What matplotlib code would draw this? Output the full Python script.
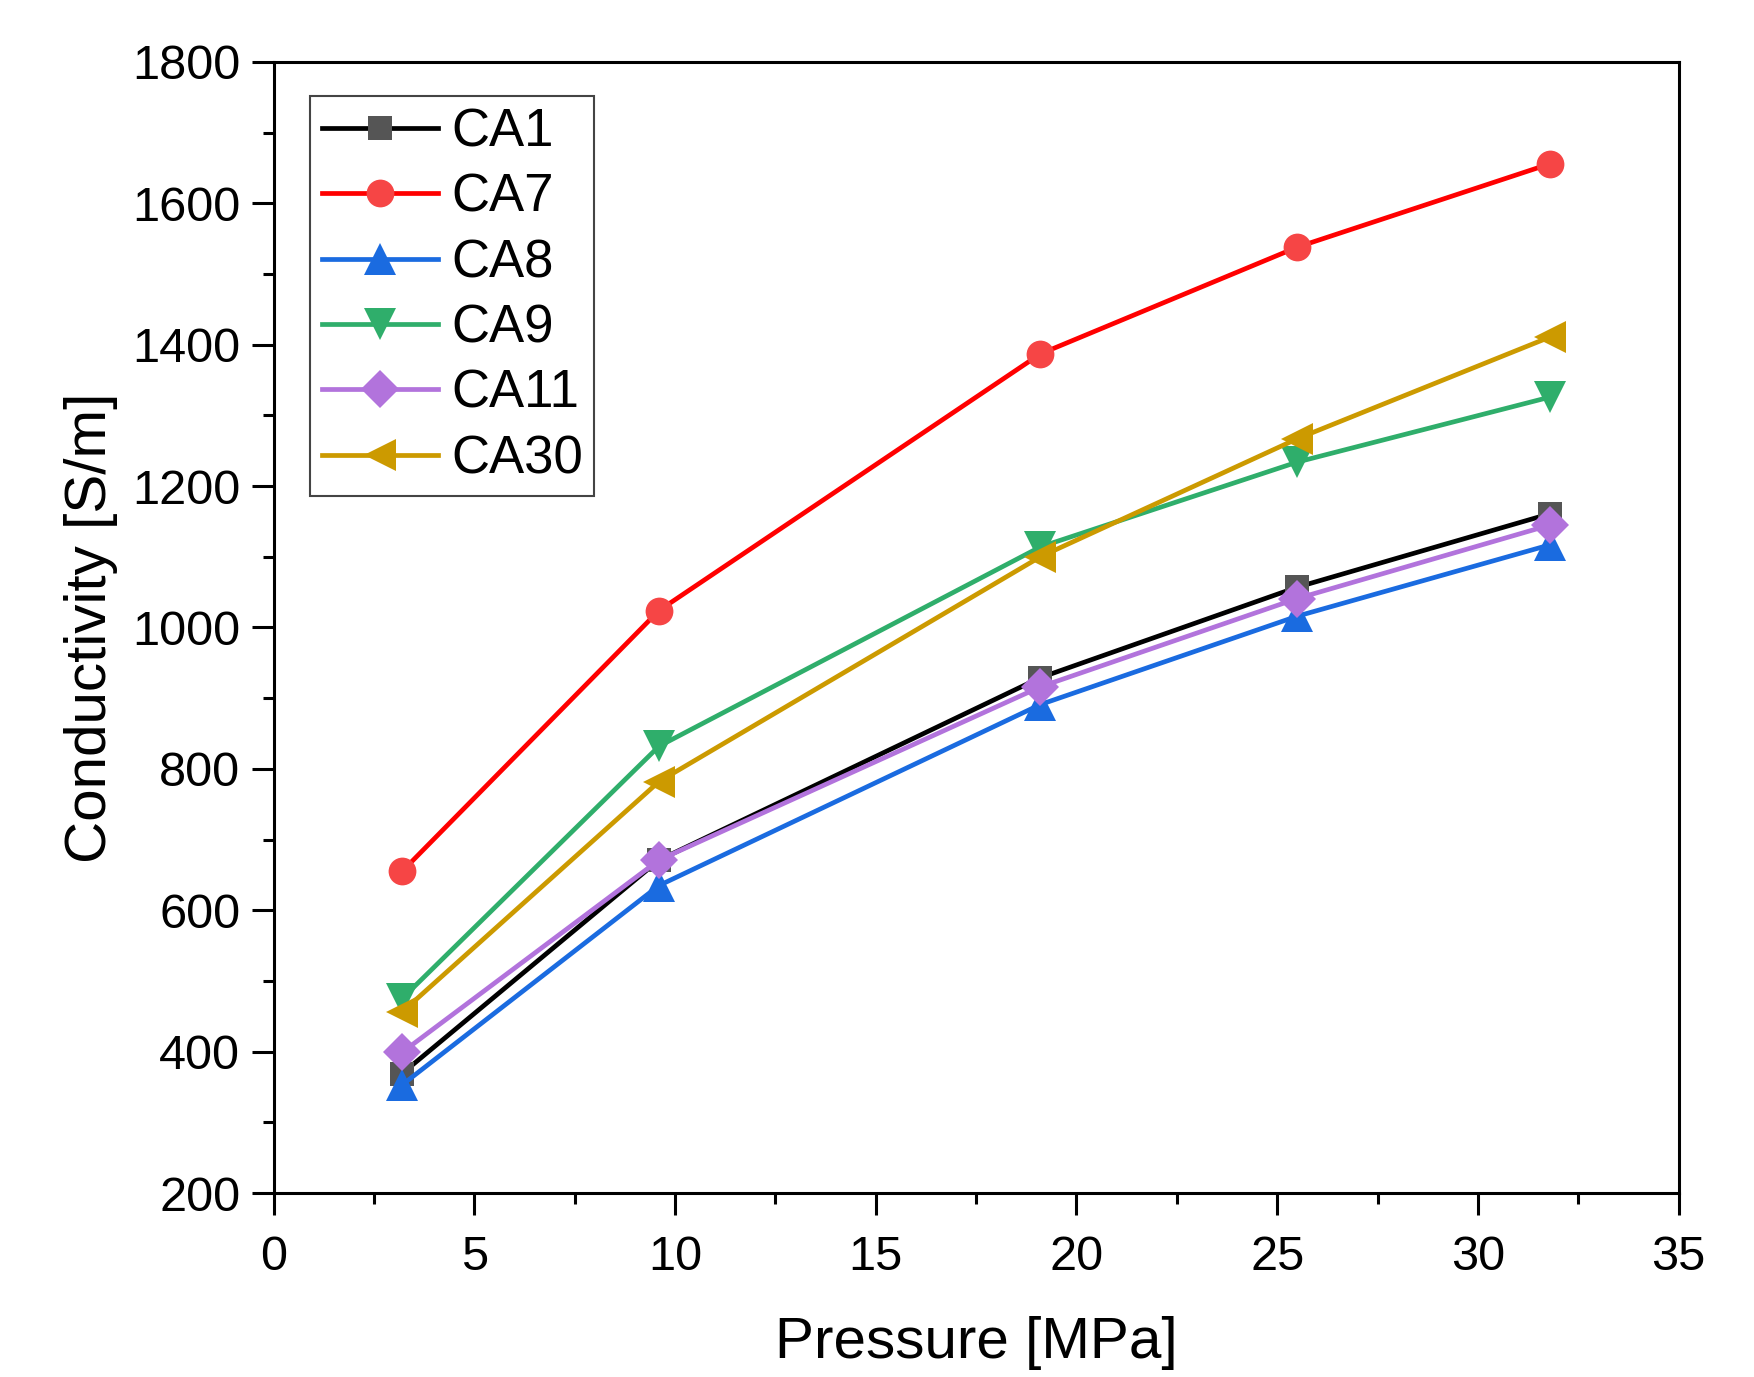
import matplotlib
matplotlib.use('Agg')
import matplotlib.pyplot as plt
from matplotlib.ticker import MultipleLocator

plt.rcParams['font.family'] = ['Liberation Sans', 'DejaVu Sans']

pressure = [3.2, 9.6, 19.1, 25.5, 31.8]

ca1 = [369, 671, 929, 1057, 1161]
ca7 = [655, 1024, 1387, 1538, 1656]
ca8 = [353, 635, 891, 1016, 1117]
ca9 = [475, 832, 1114, 1234, 1326]
ca11 = [399, 671, 916, 1041, 1145]
ca30 = [456, 782, 1100, 1267, 1411]

labels = ['CA1', 'CA7', 'CA8', 'CA9', 'CA11', 'CA30']
series = [ca1, ca7, ca8, ca9, ca11, ca30]
line_colors = ['#000000', '#ff0000', '#1a6be0', '#2fae6b', '#b273dc', '#cc9a00']
marker_colors = ['#555555', '#f64545', '#1a6be0', '#2fae6b', '#b273dc', '#cc9a00']
markers = ['s', 'o', '^', 'v', 'D', '<']
msizes = [17, 20, 23, 23, 19, 23]

fig = plt.figure(figsize=(17.54, 13.77), dpi=100)
ax = fig.add_axes([0.156, 0.1336, 0.801, 0.8214])

for y, lab, lc, mc, m, ms in zip(series, labels, line_colors, marker_colors, markers, msizes):
    ax.plot(pressure, y, color=lc, lw=3.4, marker=m, markersize=ms,
            markerfacecolor=mc, markeredgecolor=mc, markeredgewidth=0, label=lab)

ax.set_xlim(0, 35)
ax.set_ylim(200, 1800)
ax.xaxis.set_major_locator(MultipleLocator(5))
ax.xaxis.set_minor_locator(MultipleLocator(2.5))
ax.yaxis.set_major_locator(MultipleLocator(200))
ax.yaxis.set_minor_locator(MultipleLocator(100))

for s in ax.spines.values():
    s.set_linewidth(2.2)
ax.tick_params(which='major', direction='out', length=16, width=2.2, labelsize=35, pad=8,
               top=False, right=False)
ax.tick_params(axis='x', which='major', pad=14)
ax.tick_params(which='minor', direction='out', length=8, width=2.2, top=False, right=False)

ax.set_xlabel('Pressure [MPa]', fontsize=42, labelpad=26)
ax.set_ylabel('Conductivity [S/m]', fontsize=42, labelpad=10)

leg = ax.legend(loc='upper left', bbox_to_anchor=(0.026, 0.97), borderaxespad=0,
                fontsize=38, handlelength=2.2, handletextpad=0.25, labelspacing=0.29,
                borderpad=0.22, fancybox=False, framealpha=1, edgecolor='#444444')
leg.get_frame().set_linewidth(1.5)

fig.savefig('out.png', dpi=100)
